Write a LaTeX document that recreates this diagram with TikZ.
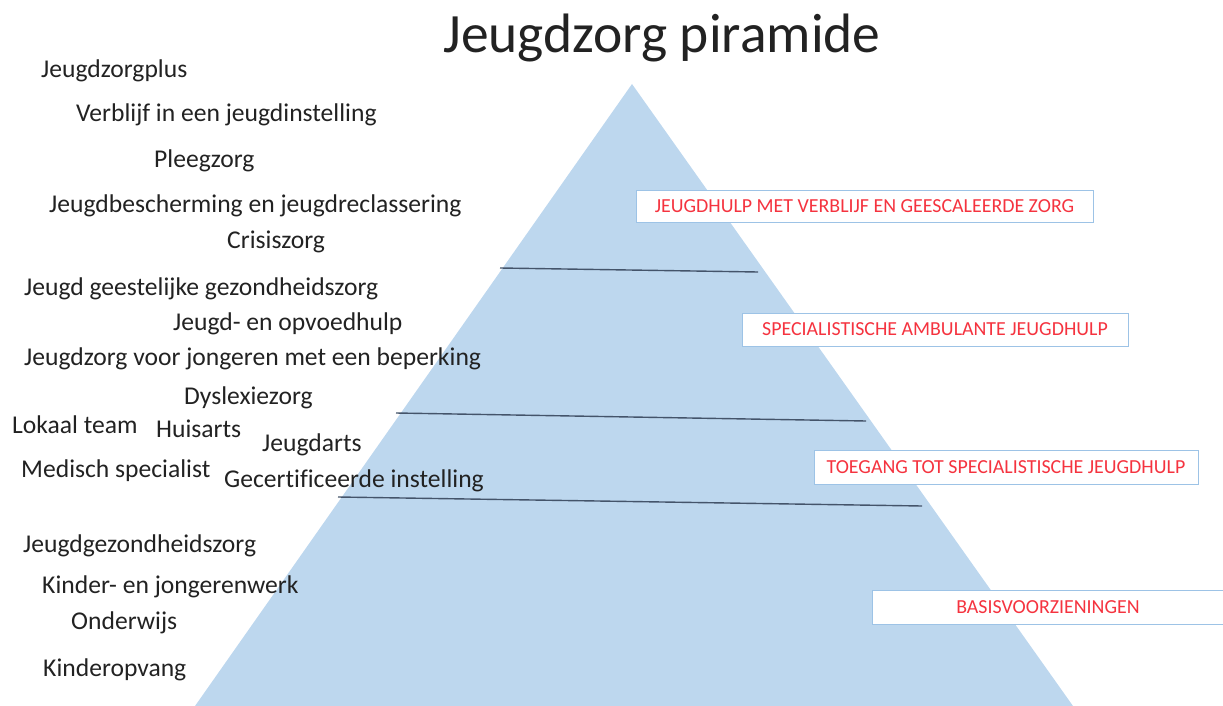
\documentclass[tikz,border=0pt]{standalone}
\usepackage{fontspec}
\setmainfont{Carlito}[Ligatures=NoCommon]
\definecolor{pyr}{HTML}{BDD7EE}
\definecolor{txt}{HTML}{222222}
\definecolor{redtxt}{HTML}{F5333F}
\definecolor{boxline}{HTML}{9DC3E6}
\definecolor{divline}{HTML}{44546A}
\tikzset{
  item/.style={anchor=base west, inner sep=0pt, text=txt, font=\fontsize{25.6}{28}\selectfont},
  levelbox/.style={draw=boxline, line width=1pt, fill=white, inner sep=0pt, text=redtxt, font=\fontsize{19.9}{22}\selectfont},
  divider/.style={draw=divline, line width=1.4pt},
}
\begin{document}
\begin{tikzpicture}[x=1pt,y=-1pt]
\useasboundingbox (0,0) rectangle (1223,706);
% pyramid
\coordinate (apex) at (632,84);
\coordinate (bl) at (195,706);
\coordinate (br) at (1073,706);
\fill[pyr] (apex) -- (bl) -- (br) -- cycle;
% dividers
\coordinate (d1a) at (500,268); \coordinate (d1b) at (758,272);
\coordinate (d2a) at (396,413); \coordinate (d2b) at (866,421);
\coordinate (d3a) at (338,497); \coordinate (d3b) at (922,506);
\draw[divider] (d1a) -- (d1b);
\draw[divider] (d2a) -- (d2b);
\draw[divider] (d3a) -- (d3b);
% title
\node[anchor=base, inner sep=0pt, text=txt, font=\fontsize{55.5}{60}\selectfont] (title) at (662,53) {Jeugdzorg piramide};
% level boxes
\node[levelbox, minimum width=457pt, minimum height=32pt] (b1) at (864.5,206) {JEUGDHULP MET VERBLIJF EN GEESCALEERDE ZORG};
\node[levelbox, minimum width=386pt, minimum height=33pt] (b2) at (935,329.5) {SPECIALISTISCHE AMBULANTE JEUGDHULP};
\node[levelbox, minimum width=384pt, minimum height=34pt] (b3) at (1006,467) {TOEGANG TOT SPECIALISTISCHE JEUGDHULP};
\node[levelbox, minimum width=352pt, minimum height=34pt] (b4) at (1048,607) {BASISVOORZIENINGEN};
% items
\node[item] (i1) at (41,78) {Jeugdzorgplus};
\node[item] (i2) at (76,122) {Verblijf in een jeugdinstelling};
\node[item] (i3) at (154,167) {Pleegzorg};
\node[item] (i4) at (49,212) {Jeugdbescherming en jeugdreclassering};
\node[item] (i5) at (227,248) {Crisiszorg};
\node[item] (i6) at (24,295) {Jeugd geestelijke gezondheidszorg};
\node[item] (i7) at (173,330) {Jeugd- en opvoedhulp};
\node[item] (i8) at (24,365) {Jeugdzorg voor jongeren met een beperking};
\node[item] (i9) at (184,404) {Dyslexiezorg};
\node[item] (i10) at (12,433) {Lokaal team};
\node[item] (i11) at (156,437) {Huisarts};
\node[item] (i12) at (262,451) {Jeugdarts};
\node[item] (i13) at (21,477) {Medisch specialist};
\node[item] (i14) at (224,487) {Gecertificeerde instelling};
\node[item] (i15) at (23,552) {Jeugdgezondheidszorg};
\node[item] (i16) at (42,593) {Kinder- en jongerenwerk};
\node[item] (i17) at (71,629) {Onderwijs};
\node[item] (i18) at (43,676) {Kinderopvang};
\end{tikzpicture}
\end{document}
